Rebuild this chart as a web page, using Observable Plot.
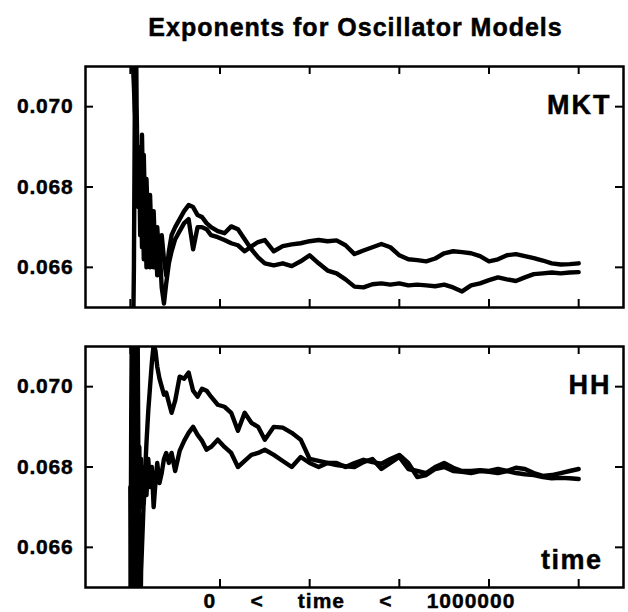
<!DOCTYPE html>
<html><head><meta charset="utf-8">
<script src="https://cdn.jsdelivr.net/npm/d3@7"></script>
<script src="https://cdn.jsdelivr.net/npm/@observablehq/plot@0.6"></script>
<style>
html,body{margin:0;padding:0;background:#fff;}
body{width:628px;height:612px;overflow:hidden;font-family:"Liberation Sans",Arial,Helvetica,sans-serif;font-weight:bold;color:#000;}
#title{height:50px;box-sizing:border-box;padding-top:4px;line-height:46px;font-size:25px;letter-spacing:1px;text-align:center;padding-left:83px;white-space:nowrap;-webkit-text-stroke:0.5px #000;}
#chart svg{display:block;}
#chart svg text{font-weight:bold;stroke:#000;stroke-width:0.45px;}
g[aria-label="y-axis tick label"] text{letter-spacing:0.8px;}
g[aria-description="panel-label"] text{letter-spacing:2px;}
g[aria-description="time-label"] text{letter-spacing:1.5px;}
g[aria-description="x-label"] text{letter-spacing:1px;}
</style></head><body>
<div id="title"></div>
<div id="chart"></div>
<script>
const titleText = "Exponents for Oscillator Models";
const panels = ["MKT", "HH"];
const timeLabel = "time";
const xLabelWords = ["0", "<", "time", "<", "1000000"];
const yTicks = [0.066, 0.068, 0.070];
const xTicks = [0, 200000, 400000, 600000, 800000, 1000000];

const times = [
  0, 2000, 4000, 6000, 8000, 10000, 12000, 14000, 16000, 18000,
  20000, 22000, 24000, 26000, 28000, 30000, 33000, 36000, 40000, 44000,
  48000, 52000, 56000, 60000, 65000, 70000, 75000, 80000, 86000, 92000,
  100000, 110000, 120000, 130000, 140000, 150000, 160000, 170000, 180000, 195000,
  210000, 225000, 240000, 255000, 270000, 285000, 300000, 320000, 340000, 360000,
  380000, 400000, 420000, 440000, 460000, 480000, 500000, 520000, 540000, 560000,
  580000, 600000, 620000, 640000, 660000, 680000, 700000, 720000, 740000, 760000,
  780000, 800000, 820000, 840000, 860000, 880000, 900000, 920000, 940000, 960000,
  980000, 1000000
];

const mktP = [
  0.0600, 0.0610, 0.0625, 0.0640, 0.0660, 0.0700, 0.0730, 0.0700, 0.0686, 0.0675,
  0.0685, 0.0668, 0.0680, 0.0665, 0.0678, 0.0662, 0.0676, 0.0660, 0.0674, 0.0660,
  0.0670, 0.0660, 0.0668, 0.0658, 0.0665, 0.0655, 0.0651, 0.0656, 0.0661, 0.0664,
  0.0667, 0.0669, 0.0671, 0.0672, 0.06645, 0.0670, 0.0670, 0.06695, 0.0668, 0.06675,
  0.06668, 0.0666, 0.06655, 0.0664, 0.06652, 0.06663, 0.06668, 0.0664, 0.06653, 0.06657,
  0.0666, 0.06665, 0.06668, 0.06665, 0.06667, 0.06655, 0.06633, 0.06642, 0.0665, 0.06658,
  0.0665, 0.0663, 0.0662, 0.06618, 0.06615, 0.06622, 0.06635, 0.0664, 0.06638, 0.06635,
  0.06628, 0.06615, 0.0662, 0.0663, 0.06633, 0.06628, 0.06623, 0.06617, 0.0661, 0.06607,
  0.06608, 0.0661
];
const mktQ = [
  0.0740, 0.0725, 0.0716, 0.0710, 0.0705, 0.0699, 0.0696, 0.0690, 0.0678, 0.0689,
  0.0676, 0.0690, 0.0678, 0.0693, 0.0680, 0.0688, 0.0672, 0.0682, 0.0668, 0.0678,
  0.0664, 0.0674, 0.0662, 0.0670, 0.0661, 0.0668, 0.0662, 0.0658, 0.0664, 0.0668,
  0.0670, 0.0672, 0.0674, 0.06755, 0.0675, 0.0673, 0.06725, 0.0671, 0.0670, 0.0669,
  0.06685, 0.06702, 0.06695, 0.0667, 0.06645, 0.06625, 0.0661, 0.06605, 0.0661, 0.06603,
  0.06615, 0.0663, 0.0661, 0.06592, 0.06585, 0.0657, 0.06552, 0.0655, 0.06558, 0.0656,
  0.06557, 0.0656, 0.06555, 0.06557, 0.06555, 0.06553, 0.06557, 0.0655, 0.0654, 0.06555,
  0.0656, 0.06568, 0.06575, 0.0657, 0.06566, 0.06575, 0.06583, 0.06585, 0.06587, 0.06585,
  0.06587, 0.06588
];
const hhA = [
  0.0630, 0.0693, 0.0725, 0.0690, 0.0640, 0.0630, 0.0660, 0.0700, 0.0720, 0.0680,
  0.0645, 0.0635, 0.0654, 0.0660, 0.0666, 0.0672, 0.0679, 0.0686, 0.0694, 0.0700,
  0.0706, 0.07105, 0.0709, 0.0705, 0.0702, 0.0700, 0.0698, 0.06985, 0.0696, 0.06935,
  0.06965, 0.07025, 0.0702, 0.07035, 0.0699, 0.06975, 0.06995, 0.0699, 0.06975, 0.06955,
  0.0695, 0.06935, 0.0689, 0.06935, 0.0691, 0.0690, 0.06868, 0.0690, 0.06898, 0.06885,
  0.06868, 0.0682, 0.06815, 0.0681, 0.06805, 0.06802, 0.0680, 0.06812, 0.0682, 0.06795,
  0.0681, 0.06825, 0.06795, 0.0679, 0.06785, 0.0680, 0.0681, 0.06798, 0.0679, 0.0679,
  0.06792, 0.0679, 0.06795, 0.0679, 0.06798, 0.06795, 0.06785, 0.06778, 0.0678, 0.06785,
  0.0679, 0.06795
];
const hhB = [
  0.0675, 0.0640, 0.0630, 0.0668, 0.0715, 0.0725, 0.0700, 0.0660, 0.0640, 0.0665,
  0.0685, 0.0672, 0.0682, 0.0670, 0.0680, 0.0671, 0.0679, 0.0673, 0.0682, 0.0675,
  0.0680, 0.0670, 0.0676, 0.0681, 0.0676, 0.06785, 0.0682, 0.06835, 0.0681, 0.06835,
  0.0679, 0.0684, 0.06865, 0.06885, 0.0690, 0.0688, 0.06865, 0.06843, 0.0685, 0.06868,
  0.0685, 0.06835, 0.0680, 0.06815, 0.0683, 0.06835, 0.06843, 0.0683, 0.06815, 0.0680,
  0.06825, 0.0681, 0.0680, 0.0681, 0.0681, 0.0680, 0.0681, 0.06818, 0.06812, 0.06808,
  0.0682, 0.0683, 0.0681, 0.06775, 0.0678, 0.06795, 0.0680, 0.0679, 0.06788, 0.06785,
  0.0679, 0.06788, 0.06785, 0.0679, 0.06785, 0.06782, 0.0678, 0.06775, 0.06772, 0.06773,
  0.06772, 0.0677
];

const series = [
  {panel: panels[0], name: "P", values: mktP},
  {panel: panels[0], name: "Q", values: mktQ},
  {panel: panels[1], name: "A", values: hhA},
  {panel: panels[1], name: "B", values: hhB}
];
const rows = series.flatMap(s => times.map((t, i) => ({t, v: s.values[i], panel: s.panel, series: s.panel + s.name})));

document.getElementById("title").textContent = titleText;
const xLabel = xLabelWords.join("\u00A0\u00A0\u00A0\u00A0\u00A0");

const W = 628, H = 562, mL = 85, mR = 5, mT = 16, mB = 25;
const frameW = W - mL - mR;
const panelH = 241;
const tickLen = 8;

const chart = Plot.plot({
  width: W, height: H,
  marginLeft: mL, marginRight: mR, marginTop: mT, marginBottom: mB,
  style: {fontFamily: '"Liberation Sans", Arial, Helvetica, sans-serif', fontWeight: "bold", background: "white", color: "black"},
  x: {domain: [-100000, 1100000], axis: null},
  y: {domain: [0.065, 0.071]},
  fy: {domain: panels, paddingInner: 0.1393, paddingOuter: 0, axis: null, label: null},
  marks: [
    Plot.line(rows, {x: "t", y: "v", fy: "panel", z: "series", stroke: "black", strokeWidth: 4.4, strokeLinejoin: "round", strokeLinecap: "round", clip: true}),
    Plot.frame({stroke: "black", strokeWidth: 2.5}),
    Plot.tickY(yTicks, {y: d => d, insetRight: frameW - tickLen, stroke: "black", strokeWidth: 2}),
    Plot.tickY(yTicks, {y: d => d, insetLeft: frameW - tickLen, stroke: "black", strokeWidth: 2}),
    Plot.tickX(xTicks, {x: d => d, insetBottom: panelH - tickLen, stroke: "black", strokeWidth: 2}),
    Plot.tickX(xTicks, {x: d => d, insetTop: panelH - tickLen, stroke: "black", strokeWidth: 2}),
    Plot.axisY(yTicks, {anchor: "left", tickSize: 0, tickPadding: 12, tickFormat: d3.format(".3f"), fontSize: 21, label: null}),
    Plot.text(panels, {fy: d => d, text: d => d, frameAnchor: "top-right", dx: -12, dy: 28, lineAnchor: "top", textAnchor: "end", fontSize: 27, ariaDescription: "panel-label"}),
    Plot.text([timeLabel], {fy: () => panels[1], text: d => d, frameAnchor: "bottom-right", dx: -21, dy: -19, lineAnchor: "bottom", textAnchor: "end", fontSize: 27, ariaDescription: "time-label"}),
    Plot.text([xLabel], {fy: () => panels[1], text: d => d, frameAnchor: "bottom", dx: 5, dy: 20, lineAnchor: "bottom", fontSize: 21, ariaDescription: "x-label"})
  ]
});
document.getElementById("chart").appendChild(chart);
</script>
</body></html>
